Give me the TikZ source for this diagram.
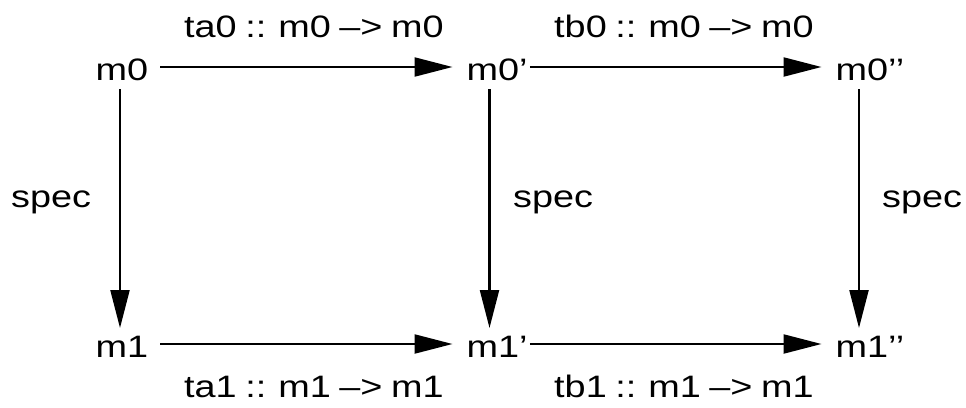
\documentclass[tikz,border=0pt]{standalone}
\usepackage{fontspec}
\setmainfont{Liberation Sans}[FakeStretch=1.22]
\usetikzlibrary{arrows.meta}
\newcommand\diagfont{\fontsize{31}{36}\selectfont\spaceskip=0.275em\relax}
\begin{document}
\begin{tikzpicture}[x=1pt,y=-1pt,
  every node/.style={inner sep=0pt,anchor=base west,font=\diagfont},
  arr/.style={line width=2.2pt,-{Triangle[length=38pt,width=19pt]}}]
\useasboundingbox (0,0) rectangle (966,407);
% objects
\node (m0)  at (95.5,80)  {m0};
\node (m0p) at (466.5,80) {m0’};
\node (m0pp) at (835.5,80) {m0’’};
\node (m1)  at (95.5,357)  {m1};
\node (m1p) at (466.5,357) {m1’};
\node (m1pp) at (835.5,357) {m1’’};
% labels
\node (la0) at (184,37) {ta0 :: m0 –> m0};
\node (lb0) at (554,37) {tb0 :: m0 –> m0};
\node (la1) at (184,397) {ta1 :: m1 –> m1};
\node (lb1) at (554,397) {tb1 :: m1 –> m1};
\node (s0) at (11,207) {spec};
\node (s1) at (513,207) {spec};
\node (s2) at (882,207) {spec};
% horizontal arrows
\draw[arr] ([xshift=12pt,yshift=13pt]m0.base east) -- ([xshift=-14pt,yshift=13pt]m0p.base west);
\draw[arr] ([xshift=2pt,yshift=13pt]m0p.base east) -- ([xshift=-14pt,yshift=13pt]m0pp.base west);
\draw[arr] ([xshift=12pt,yshift=13pt]m1.base east) -- ([xshift=-14pt,yshift=13pt]m1p.base west);
\draw[arr] ([xshift=2pt,yshift=13pt]m1p.base east) -- ([xshift=-14pt,yshift=13pt]m1pp.base west);
% vertical arrows
\draw[arr] ([xshift=24.5pt,yshift=-9pt]m0.base west) -- ([xshift=24.5pt,yshift=29pt]m1.base west);
\draw[arr] ([xshift=23pt,yshift=-9pt]m0p.base west) -- ([xshift=23pt,yshift=29pt]m1p.base west);
\draw[arr] ([xshift=23.5pt,yshift=-9pt]m0pp.base west) -- ([xshift=23.5pt,yshift=29pt]m1pp.base west);
\end{tikzpicture}
\end{document}
